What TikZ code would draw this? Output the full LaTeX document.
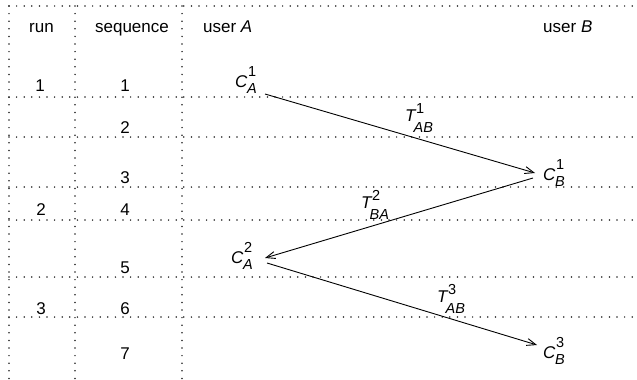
\documentclass[tikz,border=0pt]{standalone}
\usepackage{fontspec}
\setmainfont{Liberation Sans}
\usetikzlibrary{arrows.meta}
% italic letter with a subscript and a superscript, set by hand
% #1 letter, #2 subscript, #3 superscript, #4 kern before subscript,
% #5 kern before superscript, #6 subscript drop, #7 superscript rise
\newcommand\idx[7]{\textit{#1}\kern#4\rlap{\kern#5\raisebox{#7}{\fontsize{14.5}{15}\selectfont #3}}\raisebox{-#6}{\fontsize{14.5}{15}\selectfont\itshape #2}}
\newcommand\stC[3]{\idx{#1}{#2}{#3}{-0.5pt}{1pt}{6pt}{11pt}}
\newcommand\stT[3]{\idx{#1}{#2}{#3}{-3pt}{2.5pt}{11pt}{8pt}}
\begin{document}
\begin{tikzpicture}[x=1pt,y=-1pt,
  font=\fontsize{17}{20}\selectfont,
  gridline/.style={draw=black!85, line width=1.7pt, line cap=round, dash pattern=on 0pt off 7.6pt},
  msg/.style={line width=0.9pt, -{Straight Barb[length=9pt,width=7pt,line width=0.9pt]}},
  txt/.style={inner sep=0pt, anchor=base},
  sym/.style={inner sep=0pt, anchor=base west}]
\useasboundingbox (0,0) rectangle (637,380);

% table rules
\foreach \yy in {6,97,137,187,220,277,317}
  \draw[gridline] (9,\yy) -- (637,\yy);
\foreach \xx in {9,75,182}
  \draw[gridline] (\xx,6) -- (\xx,380);

% column headings
\node[txt] (hrun) at (41.5,32) {run};
\node[txt] (hseq) at (132,32) {sequence};
\node[txt, anchor=base west] (huA) at (203,32) {user \textit{A}};
\node[txt, anchor=base west] (huB) at (543,32) {user \textit{B}};

% run numbers
\node[txt] (r1) at (40,91) {1};
\node[txt] (r2) at (41,215) {2};
\node[txt] (r3) at (41,314) {3};

% sequence numbers
\node[txt] (s1) at (125,91) {1};
\node[txt] (s2) at (125,133) {2};
\node[txt] (s3) at (125,183) {3};
\node[txt] (s4) at (125,215) {4};
\node[txt] (s5) at (125,273) {5};
\node[txt] (s6) at (125,314) {6};
\node[txt] (s7) at (125,359) {7};

% message states
\node[sym] (ca1) at (235,87)  {\stC{C}{A}{1}};
\node[sym] (cb1) at (543,180) {\stC{C}{B}{1}};
\node[sym] (ca2) at (231,263) {\stC{C}{A}{2}};
\node[sym] (cb3) at (543,358) {\stC{C}{B}{3}};

% transmission labels
\node[sym] (t1) at (405,121) {\stT{T}{AB}{1}};
\node[sym] (t2) at (361,208) {\stT{T}{BA}{2}};
\node[sym] (t3) at (437,302) {\stT{T}{AB}{3}};

% transmissions
\draw[msg] ([shift={(30,7)}]ca1.base west) -- ([shift={(-8,-7)}]cb1.base west);
\draw[msg] ([shift={(-10,-2)}]cb1.base west) -- ([shift={(34,-5)}]ca2.base west);
\draw[msg] ([shift={(36,0)}]ca2.base west) -- ([shift={(-6,-13)}]cb3.base west);
\end{tikzpicture}
\end{document}
